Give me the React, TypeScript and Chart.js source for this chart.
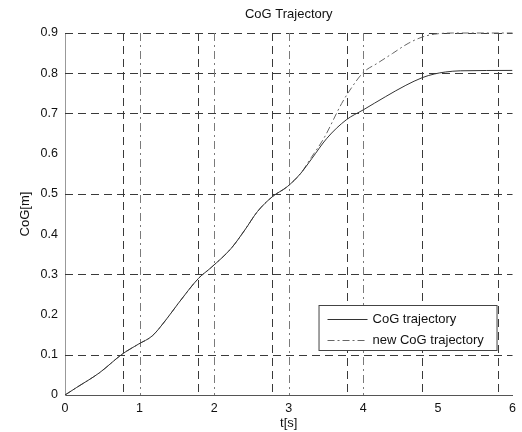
import React, { useEffect, useRef } from "react";
import { Chart, registerables } from "chart.js";

Chart.register(...registerables);

const titleText = "CoG Trajectory";
const xTitle = "t[s]";
const yTitle = "CoG[m]";
const seriesLabels = ["CoG trajectory", "new CoG trajectory"];

const cogT = [0, 0.15, 0.46, 0.77, 0.99, 1.17, 1.35, 1.52, 1.79, 1.96, 2.23, 2.41, 2.58, 2.78, 2.98, 3.16, 3.31, 3.51, 3.77, 4.0, 4.3, 4.57, 4.79, 4.95, 5.1, 5.3, 6.0];
const cogY = [0, 0.018, 0.055, 0.102, 0.127, 0.147, 0.186, 0.228, 0.29, 0.317, 0.365, 0.41, 0.456, 0.493, 0.518, 0.551, 0.588, 0.638, 0.684, 0.709, 0.742, 0.77, 0.789, 0.798, 0.803, 0.806, 0.807];

const newT = [0, 0.15, 0.46, 0.77, 0.99, 1.17, 1.35, 1.52, 1.79, 1.96, 2.23, 2.41, 2.58, 2.78, 2.98, 3.16, 3.3, 3.47, 3.71, 3.82, 4.0, 4.19, 4.39, 4.6, 4.79, 4.95, 5.2, 6.0];
const newY = [0, 0.018, 0.055, 0.102, 0.127, 0.147, 0.186, 0.228, 0.29, 0.317, 0.365, 0.41, 0.456, 0.493, 0.518, 0.551, 0.59, 0.638, 0.725, 0.758, 0.802, 0.825, 0.849, 0.874, 0.89, 0.897, 0.9, 0.9];

const xTicks = [0, 1, 2, 3, 4, 5, 6];
const yTicks = [0, 0.1, 0.2, 0.3, 0.4, 0.5, 0.6, 0.7, 0.8, 0.9];
const xGridDark = [0.78, 1.78, 2.78, 3.78, 4.78, 5.8];
const xGridLight = [1, 2, 3, 4];
const yGrid = [0.1, 0.3, 0.5, 0.7, 0.8, 0.9];

const FONT = "'Liberation Sans', Arial, Helvetica, sans-serif";

const decorPlugin = {
  id: "decor",
  beforeDatasetsDraw(chart: any) {
    const { ctx, chartArea, scales } = chart;
    const xs = scales.x;
    const ys = scales.y;
    ctx.save();
    ctx.lineWidth = 1;
    ctx.strokeStyle = "#3a3a3a";
    ctx.setLineDash([8, 5]);
    yGrid.forEach((v) => {
      const py = Math.round(ys.getPixelForValue(v)) + 0.5;
      ctx.beginPath();
      ctx.moveTo(chartArea.left, py);
      ctx.lineTo(chartArea.right, py);
      ctx.stroke();
    });
    xGridDark.forEach((v) => {
      const px = Math.round(xs.getPixelForValue(v)) + 0.5;
      ctx.beginPath();
      ctx.moveTo(px, chartArea.top);
      ctx.lineTo(px, chartArea.bottom);
      ctx.stroke();
    });
    ctx.strokeStyle = "#7a7a7a";
    ctx.setLineDash([8, 4, 2, 4]);
    xGridLight.forEach((v) => {
      const px = Math.round(xs.getPixelForValue(v)) + 0.5;
      ctx.beginPath();
      ctx.moveTo(px, chartArea.top);
      ctx.lineTo(px, chartArea.bottom);
      ctx.stroke();
    });
    ctx.restore();
  },
  afterDraw(chart: any) {
    const { ctx, chartArea } = chart;
    ctx.save();
    ctx.fillStyle = "#111";
    ctx.font = `13px ${FONT}`;
    ctx.textAlign = "center";
    ctx.textBaseline = "middle";
    ctx.fillText(titleText, (chartArea.left + chartArea.right) / 2, 14);
    const bx = chartArea.right - 194;
    const by = chartArea.bottom - 90;
    const bw = 178;
    const bh = 45;
    ctx.fillStyle = "#fff";
    ctx.fillRect(bx, by, bw, bh);
    ctx.strokeStyle = "#444";
    ctx.lineWidth = 1;
    ctx.setLineDash([]);
    ctx.strokeRect(bx + 0.5, by + 0.5, bw, bh);
    const rows = [by + 14, by + 35];
    const styles = [
      { color: "#333", dash: [] as number[] },
      { color: "#666", dash: [7, 3, 2, 3] },
    ];
    rows.forEach((ry, i) => {
      ctx.strokeStyle = styles[i].color;
      ctx.setLineDash(styles[i].dash);
      ctx.beginPath();
      ctx.moveTo(bx + 9, Math.round(ry) + 0.5);
      ctx.lineTo(bx + 49, Math.round(ry) + 0.5);
      ctx.stroke();
      ctx.fillStyle = "#111";
      ctx.textAlign = "left";
      ctx.fillText(seriesLabels[i], bx + 54, ry);
    });
    ctx.restore();
  },
};

export default function App() {
  const ref = useRef<HTMLCanvasElement>(null);
  useEffect(() => {
    if (!ref.current) return;
    const chart = new Chart(ref.current, {
      type: "line",
      data: {
        datasets: [
          {
            label: seriesLabels[0],
            data: cogT.map((t, i) => ({ x: t, y: cogY[i] })),
            borderColor: "#333",
            borderWidth: 1,
            pointRadius: 0,
            cubicInterpolationMode: "monotone",
          },
          {
            label: seriesLabels[1],
            data: newT.map((t, i) => ({ x: t, y: newY[i] })),
            borderColor: "#666",
            borderWidth: 1,
            borderDash: [7, 3, 2, 3],
            pointRadius: 0,
            cubicInterpolationMode: "monotone",
            clip: 2,
          },
        ],
      },
      options: {
        animation: false,
        responsive: false,
        layout: { padding: { top: 33, right: 4, bottom: 0, left: 0 } },
        plugins: { legend: { display: false }, title: { display: false }, tooltip: { enabled: false } },
        scales: {
          x: {
            type: "linear",
            min: 0,
            max: 6,
            afterBuildTicks: (s: any) => {
              s.ticks = xTicks.map((v) => ({ value: v }));
            },
            afterFit: (s: any) => {
              s.height = 37;
            },
            grid: { display: false, drawTicks: false },
            border: { display: true, color: "#555", width: 1 },
            ticks: { color: "#111", font: { family: FONT, size: 12.5 }, padding: 6, maxRotation: 0 },
            title: { display: true, text: xTitle, color: "#111", font: { family: FONT, size: 13 }, padding: { top: 0, bottom: 1 } },
          },
          y: {
            type: "linear",
            min: 0,
            max: 0.9,
            afterBuildTicks: (s: any) => {
              s.ticks = yTicks.map((v) => ({ value: v }));
            },
            afterFit: (s: any) => {
              s.width = 65;
            },
            grid: { display: false, drawTicks: false },
            border: { display: true, color: "#999", width: 1 },
            ticks: { color: "#111", font: { family: FONT, size: 12.5 }, padding: 7, callback: (v: any) => String(Math.round(Number(v) * 10) / 10) },
            title: { display: true, text: yTitle, color: "#111", font: { family: FONT, size: 13 }, padding: { top: 18, bottom: 0 } },
          },
        },
      },
      plugins: [decorPlugin],
    } as any);
    return () => chart.destroy();
  }, []);
  return (
    <div style={{ position: "fixed", left: 0, top: 0, width: 522, height: 432, background: "#fff" }}>
      <canvas ref={ref} width={522} height={432} style={{ display: "block" }} />
    </div>
  );
}
